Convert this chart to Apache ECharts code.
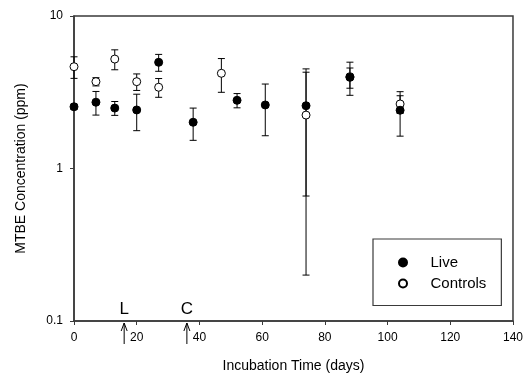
<!DOCTYPE html>
<html><head><meta charset="utf-8">
<script src="https://cdn.jsdelivr.net/npm/echarts@6/dist/echarts.min.js"></script>
<style>html,body{margin:0;padding:0;background:#fff}#c{width:526px;height:383px}</style>
</head><body><div id="c"></div>
<script>
// Data
const liveDays = [0, 7, 13, 20, 27, 38, 52, 61, 74, 88, 104];
const liveMean = [2.54, 2.72, 2.49, 2.42, 4.97, 2.01, 2.80, 2.61, 2.58, 3.96, 2.41];
const liveSD   = [0.10, 0.48, 0.26, 0.65, 0.63, 0.48, 0.30, 0.97, 1.92, 0.60, 0.78];
const ctrlDays = [0, 7, 13, 20, 27, 47, 74, 88, 104];
const ctrlMean = [4.65, 3.71, 5.22, 3.71, 3.41, 4.21, 2.24, 4.00, 2.65];
const ctrlSD   = [0.75, 0.23, 0.78, 0.46, 0.48, 1.05, 2.04, 0.98, 0.35];
const annotDays = [16, 36];
const annotLabels = ['L', 'C'];
const xAxisTitle = 'Incubation Time (days)';
const yAxisTitle = 'MTBE Concentration (ppm)';

const FONT = '"Liberation Sans", Arial, sans-serif';
const AX = '#3a3a3a';

function zip3(a, b, c) { return a.map((v, i) => [v, b[i], c[i]]); }

function errRender(params, api) {
  const x = api.value(0), m = api.value(1), s = api.value(2);
  const top = api.coord([x, m + s]);
  const bot = api.coord([x, m - s]);
  const hw = 3.5;
  const st = { stroke: '#000', lineWidth: 1 };
  return { type: 'group', children: [
    { type: 'line', shape: { x1: top[0], y1: top[1], x2: bot[0], y2: bot[1] }, style: st },
    { type: 'line', shape: { x1: top[0] - hw, y1: top[1], x2: top[0] + hw, y2: top[1] }, style: st },
    { type: 'line', shape: { x1: bot[0] - hw, y1: bot[1], x2: bot[0] + hw, y2: bot[1] }, style: st }
  ]};
}

const chart = echarts.init(document.getElementById('c'), null, { renderer: 'canvas' });
chart.setOption({
  animation: false,
  backgroundColor: '#fff',
  textStyle: { fontFamily: FONT },
  grid: { left: 74, right: 13, top: 16, bottom: 62, show: true, borderColor: AX, borderWidth: 1.5 },
  xAxis: {
    type: 'value', min: 0, max: 140, interval: 20,
    name: xAxisTitle, nameLocation: 'middle', nameGap: 38,
    nameTextStyle: { fontSize: 14, color: '#000', fontFamily: FONT },
    axisLine: { lineStyle: { color: AX, width: 1.5 } },
    axisTick: { length: 4, lineStyle: { color: AX } },
    axisLabel: { fontSize: 12, color: '#000', margin: 11, fontFamily: FONT },
    splitLine: { show: false }
  },
  yAxis: {
    type: 'log', logBase: 10, min: 0.1, max: 10,
    name: yAxisTitle, nameLocation: 'middle', nameGap: 46,
    nameTextStyle: { fontSize: 14, color: '#000', fontFamily: FONT },
    axisLine: { lineStyle: { color: AX, width: 1.5 } },
    axisTick: { length: 4, lineStyle: { color: AX } },
    axisLabel: { fontSize: 12, color: '#000', margin: 11, fontFamily: FONT,
      formatter: v => String(+v.toPrecision(3)) },
    splitLine: { show: false }
  },
  legend: {
    data: ['Live', 'Controls'],
    orient: 'vertical', left: 373, top: 239,
    backgroundColor: '#fff',
    borderColor: '#3a3a3a', borderWidth: 1.2,
    padding: [14.5, 15, 13, 25],
    itemWidth: 45, itemHeight: 8, itemGap: 3,
    selectedMode: false,
    textStyle: { fontSize: 15, color: '#000', fontFamily: FONT, lineHeight: 18 }
  },
  series: [
    { type: 'custom', name: 'liveErr', renderItem: errRender, data: zip3(liveDays, liveMean, liveSD), z: 1, silent: true },
    { type: 'custom', name: 'ctrlErr', renderItem: errRender, data: zip3(ctrlDays, ctrlMean, ctrlSD), z: 1, silent: true },
    { type: 'scatter', name: 'Live', symbol: 'circle', symbolSize: 8,
      itemStyle: { color: '#000', borderColor: '#000', borderWidth: 1, opacity: 1 },
      data: liveDays.map((d, i) => [d, liveMean[i]]), z: 3 },
    { type: 'scatter', name: 'Controls', symbol: 'circle', symbolSize: 8,
      itemStyle: { color: '#fff', borderColor: '#000', borderWidth: 1, opacity: 1 },
      data: ctrlDays.map((d, i) => [d, ctrlMean[i]]), z: 2 }
  ]
});

// Annotation arrows with labels below the x-axis, positioned through the axes
const yBase = chart.convertToPixel({ yAxisIndex: 0 }, 0.1);
const g = [];
annotDays.forEach((d, i) => {
  const x = chart.convertToPixel({ xAxisIndex: 0 }, d);
  g.push({ type: 'line', shape: { x1: x, y1: yBase + 23, x2: x, y2: yBase + 2 }, style: { stroke: '#000', lineWidth: 1 }, z: 10 });
  g.push({ type: 'polyline', shape: { points: [[x - 3, yBase + 10], [x, yBase + 2], [x + 3, yBase + 10]] }, style: { stroke: '#000', lineWidth: 1, fill: null }, z: 10 });
  g.push({ type: 'text', x: x, y: yBase - 3, style: { text: annotLabels[i], fontSize: 17, fontFamily: FONT, fill: '#000', align: 'center', verticalAlign: 'bottom' }, z: 10 });
});
chart.setOption({ graphic: g });
</script>
</body></html>
